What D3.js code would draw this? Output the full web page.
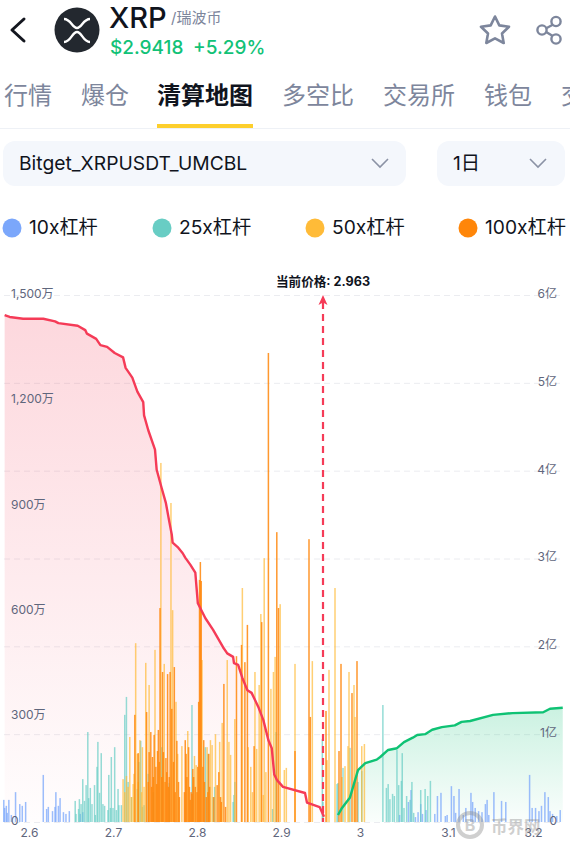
<!DOCTYPE html>
<html><head><meta charset="utf-8">
<script src="https://cdn.jsdelivr.net/npm/d3@7/dist/d3.min.js"></script>
<style>html,body{margin:0;padding:0;background:#fff;overflow:hidden}svg{display:block;font-family:Inter,"Noto Sans CJK SC",sans-serif}</style>
</head><body><svg id="c" width="570" height="852"></svg>
<script>
const tabs=["行情","爆仓","清算地图","多空比","交易所","钱包","交"];
const legendNames=["10x杠杆","25x杠杆","50x杠杆","100x杠杆"];
const legendColors=["#7ba7fb","#68cdc4","#ffbb38","#ff8609"];
const priceTicks=[2.6,2.7,2.8,2.9,3,3.1,3.2];
const leftTicks=[0,300,600,900,1200,1500];
const rightTicks=[0,1,2,3,4,5,6];
const currentPrice=2.963;

const p10=[2.570,2.571,2.573,2.574,2.576,2.579,2.584,2.589,2.592,2.596,2.617,2.621,2.623,2.628,2.631,2.632,2.635,2.637,2.641,2.644,2.648,2.661,2.664,3.045,3.055,3.058,3.063,3.066,3.069,3.071,3.075,3.085,3.088,3.092,3.097,3.099,3.104,3.107,3.109,3.113,3.118,3.121,3.127,3.129,3.132,3.136,3.14,3.144,3.146,3.148,3.154,3.163,3.168,3.196,3.199,3.203,3.207,3.21,3.214,3.218,3.22,3.223,3.228,3.232];
const v10=[63,40,46,26,63,20,85,51,46,57,134,37,43,31,43,85,46,68,28,23,31,23,28,20,57,91,14,28,51,23,34,23,74,83,17,20,102,74,26,94,20,40,83,57,40,31,28,51,63,20,85,60,57,134,40,40,31,46,85,71,31,23,17,34];

const p25=[2.655,2.656,2.659,2.660,2.662,2.664,2.666,2.668,2.670,2.671,2.673,2.675,2.678,2.679,2.681,2.682,2.684,2.686,2.688,2.690,2.694,2.695,2.697,2.698,2.700,2.702,2.704,2.706,2.707,2.710,2.714,2.716,2.718,2.722,2.729,2.731,2.733,2.735,2.737,2.742,2.748,2.758,2.767,2.794,2.81,2.813,2.819,2.821,2.843,2.844,2.845,2.89,2.894,2.962,2.963,2.977,2.978,2.983,2.990,2.998,3.002,3.026,3.03,3.032,3.034,3.037,3.039,3.042,3.044,3.047,3.048,3.05,3.053,3.057,3.059,3.061,3.069,3.074,3.077,3.08];
const v25=[60,23,37,65,51,122,60,105,256,68,97,51,105,20,157,228,83,196,51,46,34,134,40,185,40,213,34,94,48,48,305,356,114,71,94,171,231,43,48,137,85,213,111,333,213,194,71,100,57,77,114,37,256,236,57,108,111,154,211,114,145,333,97,108,65,80,74,205,105,117,196,40,74,63,114,26,91,94,74,117];

const p50=[2.712,2.714,2.716,2.718,2.720,2.722,2.724,2.725,2.727,2.729,2.730,2.732,2.734,2.735,2.737,2.739,2.743,2.750,2.757,2.761,2.769,2.771,2.775,2.777,2.782,2.789,2.797,2.799,2.806,2.812,2.816,2.818,2.822,2.827,2.830,2.836,2.838,2.840,2.845,2.854,2.861,2.864,2.866,2.869,2.871,2.874,2.876,2.879,2.880,2.882,2.888,2.891,2.893,2.899,2.905,2.908,2.921,2.947,2.967,2.969,2.975,2.982,2.985,2.988,2.989,2.994,2.995,3.002,3.005];
const v50=[122,85,131,100,242,71,108,137,509,194,114,233,85,213,100,453,390,490,1022,450,908,603,342,194,216,259,188,162,461,213,233,219,250,228,282,461,228,191,293,666,213,157,85,427,208,390,592,77,751,142,379,427,470,620,148,154,450,458,176,433,666,128,159,216,427,390,299,216,222];

const p100=[2.726,2.730,2.740,2.742,2.743,2.745,2.746,2.747,2.748,2.749,2.751,2.752,2.753,2.754,2.755,2.756,2.758,2.759,2.760,2.762,2.763,2.764,2.765,2.766,2.767,2.768,2.770,2.772,2.773,2.774,2.776,2.778,2.779,2.785,2.786,2.787,2.788,2.790,2.791,2.792,2.793,2.794,2.795,2.796,2.798,2.800,2.801,2.802,2.803,2.804,2.805,2.807,2.808,2.809,2.811,2.813,2.814,2.815,2.820,2.824,2.826,2.828,2.829,2.832,2.834,2.847,2.853,2.857,2.860,2.868,2.877,2.885,2.895,2.897,2.921,2.942,2.944,2.966,2.979,2.981,2.992,2.995,2.997];
const v100=[305,196,313,114,199,256,100,185,128,248,157,108,202,262,171,609,128,427,199,114,182,142,421,100,128,427,322,171,441,85,231,114,71,85,233,194,128,213,100,63,85,80,151,128,100,85,157,342,689,740,686,157,233,114,71,85,194,100,71,105,142,71,57,393,43,472,504,455,561,216,569,1335,825,609,202,805,299,316,202,450,367,114,458];

const redP=[2.571,2.577,2.593,2.617,2.631,2.635,2.658,2.667,2.669,2.680,2.685,2.693,2.702,2.712,2.715,2.723,2.729,2.736,2.737,2.742,2.750,2.752,2.758,2.763,2.767,2.770,2.771,2.777,2.783,2.786,2.792,2.798,2.801,2.810,2.819,2.831,2.836,2.843,2.844,2.849,2.854,2.860,2.865,2.873,2.879,2.885,2.889,2.892,2.895,2.903,2.936,2.939,2.958,2.964];
const redV=[5.77,5.75,5.73,5.73,5.70,5.68,5.65,5.60,5.56,5.50,5.43,5.41,5.34,5.29,5.17,5.06,4.90,4.78,4.63,4.46,4.24,4.01,3.80,3.63,3.42,3.27,3.18,3.13,3.06,3.01,2.93,2.84,2.49,2.32,2.19,1.99,1.92,1.88,1.81,1.79,1.64,1.50,1.47,1.31,1.16,.93,.84,.54,.48,.40,.33,.22,.17,.06];
const greenP=[2.978,2.982,2.990,2.998,3.006,3.019,3.023,3.032,3.042,3.050,3.060,3.065,3.074,3.082,3.093,3.108,3.116,3.126,3.153,3.176,3.212,3.220,3.235];
const greenV=[.08,.16,.28,.59,.67,.71,.74,.82,.84,.91,.96,.99,1.00,1.05,1.08,1.10,1.14,1.15,1.22,1.24,1.25,1.29,1.30];

const svg=d3.select("#c");
const GRAY="#7d869c",AX="#5f667c";
const T=(x,y,s,size,fill,w,anchor)=>svg.append("text").attr("x",x).attr("y",y).text(s).attr("font-size",size).attr("fill",fill).attr("font-weight",w||400).attr("text-anchor",anchor||"start");

// header
svg.append("path").attr("d","M24 19 L12 30 L24 41").attr("fill","none").attr("stroke","#14171f").attr("stroke-width",3).attr("stroke-linecap","round").attr("stroke-linejoin","round");
svg.append("circle").attr("cx",77).attr("cy",30).attr("r",22.5).attr("fill","#23282f");
svg.append("path").attr("d","M64 19 C71 19 72 28 77 28 C82 28 83 19 90 19 M64 42 C71 42 72 32 77 32 C82 32 83 42 90 42").attr("fill","none").attr("stroke","#fff").attr("stroke-width",2.4);
T(109,28,"XRP",29,"#10141d",500);
T(171,23,"/瑞波币",15,GRAY);
T(110,54,"$2.9418",19,"#12c277",500);
T(193,54,"+5.29%",19,"#12c277",500);
svg.append("path").attr("d","M495 16.5 L499.3 25.4 L509 26.7 L502 33.5 L503.7 43 L495 38.4 L486.3 43 L488 33.5 L481 26.7 L490.7 25.4 Z").attr("fill","none").attr("stroke",GRAY).attr("stroke-width",2.6).attr("stroke-linejoin","round");
svg.append("path").attr("d","M556 23 L543 30 L556 38").attr("fill","none").attr("stroke",GRAY).attr("stroke-width",2.4);
[[556,21.5],[542,30],[556,39]].forEach(c=>svg.append("circle").attr("cx",c[0]).attr("cy",c[1]).attr("r",4.6).attr("fill","#fff").attr("stroke",GRAY).attr("stroke-width",2.4));

// tabs
const tabX=[4,81,157,282,383,484,561];
tabs.forEach((t,i)=>T(tabX[i],104,t,24,i==2?"#10141d":GRAY,i==2?700:400));
svg.append("rect").attr("x",0).attr("y",128).attr("width",570).attr("height",1).attr("fill","#eef1f6");
svg.append("rect").attr("x",157).attr("y",124).attr("width",96).attr("height",4).attr("fill","#fdcf2c");

// selects
[[3,403],[437,128]].forEach(b=>svg.append("rect").attr("x",b[0]).attr("y",141).attr("width",b[1]).attr("height",45).attr("rx",12).attr("fill","#f4f7fc"));
T(19,170,"Bitget_XRPUSDT_UMCBL",19.3,"#10141d");
T(453,170,"1日",19.3,"#10141d");
[380,538].forEach(x=>svg.append("path").attr("d",`M${x-8} 159 L${x} 167 L${x+8} 159`).attr("fill","none").attr("stroke","#8b92a5").attr("stroke-width",1.6));

// legend
const legX=[12,162,315,468];
legendNames.forEach((n,i)=>{
  svg.append("circle").attr("cx",legX[i]).attr("cy",228).attr("r",9.5).attr("fill",legendColors[i]);
  T(legX[i]+17,234,n,19.2,"#10141d");
});

// scales
const x=d3.scaleLinear().domain([2.6,2.7,2.8,2.9,2.963,3,3.1,3.2]).range([29,113,197,281,323,360,448,533]);
const yL=d3.scaleLinear().domain([0,1500]).range([822,295]);
const yR=d3.scaleLinear().domain([0,6]).range([822,295]);

// grid
const grid=svg.append("g").attr("transform","translate(4,0)").call(d3.axisRight(yR).tickValues(rightTicks).tickSize(560).tickFormat(""));
grid.select(".domain").remove();
grid.selectAll("line").attr("stroke","#ebecf0").attr("stroke-dasharray","6,4");

// gradients
const defs=svg.append("defs");
function grad(id,c,y1,y2,a,b){const g=defs.append("linearGradient").attr("id",id).attr("gradientUnits","userSpaceOnUse").attr("x1",0).attr("x2",0).attr("y1",y1).attr("y2",y2);
 g.append("stop").attr("offset",0).attr("stop-color",c).attr("stop-opacity",a);g.append("stop").attr("offset",1).attr("stop-color",c).attr("stop-opacity",b);}
grad("gr","#f53b57",yR(5.77),yR(0),.2,.01);
grad("gg","#12c277",yR(1.3),yR(0),.22,.02);

const area=d3.area().x(d=>x(d[0])).y0(yR(0)).y1(d=>yR(d[1]));
const line=d3.line().x(d=>x(d[0])).y(d=>yR(d[1]));
const red=redP.map((p,i)=>[p,redV[i]]),green=greenP.map((p,i)=>[p,greenV[i]]);
svg.append("path").attr("d",area(red)).attr("fill","url(#gr)");
svg.append("path").attr("d",area(green)).attr("fill","url(#gg)");

// bars
[[p10,v10],[p25,v25],[p50,v50],[p100,v100]].forEach((s,k)=>{
  svg.append("g").selectAll("rect").data(s[0].map((p,i)=>[p,s[1][i]])).join("rect")
    .attr("x",d=>x(d[0])-.75).attr("width",1.5)
    .attr("y",d=>yL(d[1])).attr("height",d=>yL(0)-yL(d[1]))
    .attr("fill",legendColors[k]).attr("opacity",[.75,.7,.7,.85][k]);
});

// lines
svg.append("path").attr("d",line(red)).attr("fill","none").attr("stroke","#f53b57").attr("stroke-width",2.4).attr("stroke-linejoin","round");
svg.append("path").attr("d",line(green)).attr("fill","none").attr("stroke","#0fc274").attr("stroke-width",2.4).attr("stroke-linejoin","round");

// current price
svg.append("line").attr("x1",x(currentPrice)).attr("x2",x(currentPrice)).attr("y1",302).attr("y2",yR(0)).attr("stroke","#f53b57").attr("stroke-width",2.2).attr("stroke-dasharray","7,5");
svg.append("path").attr("d",`M${x(currentPrice)} 295 L${x(currentPrice)+4.5} 305 L${x(currentPrice)} 302.5 L${x(currentPrice)-4.5} 305 Z`).attr("fill","#f53b57");
T(x(currentPrice),286,"当前价格: "+currentPrice,12.6,"#10141d",700,"middle");

// axes
const st=(g)=>{g.select(".domain").remove();g.selectAll("line").remove();g.selectAll("text").attr("fill",AX).attr("font-size",12).attr("font-family",'Inter,"Noto Sans CJK SC",sans-serif');};
svg.append("g").attr("transform","translate(11,-1.5)").call(d3.axisRight(yL).tickValues(leftTicks).tickSize(0).tickPadding(0).tickFormat(d=>d==0?"0":d3.format(",")(d)+"万")).call(st);
svg.append("g").attr("transform","translate(557,-1.5)").call(d3.axisLeft(yR).tickValues(rightTicks).tickSize(0).tickPadding(0).tickFormat(d=>d==0?"0":d+"亿")).call(st);
svg.append("g").attr("transform","translate(0,822)").call(d3.axisBottom(x).tickValues(priceTicks).tickSize(0).tickPadding(6).tickFormat(d=>String(d))).call(st);

// watermark
const wm=svg.append("g").attr("opacity",.4);
wm.append("circle").attr("cx",470).attr("cy",825).attr("r",12).attr("fill","none").attr("stroke","#8a8a8a").attr("stroke-width",4);
wm.append("text").attr("x",470).attr("y",831).attr("text-anchor","middle").attr("font-size",16).attr("font-weight",700).attr("fill","#8a8a8a").text("B");
wm.append("text").attr("x",491).attr("y",833).attr("font-size",16.5).attr("font-weight",700).attr("fill","#8a8a8a").text("币界网");
</script></body></html>
